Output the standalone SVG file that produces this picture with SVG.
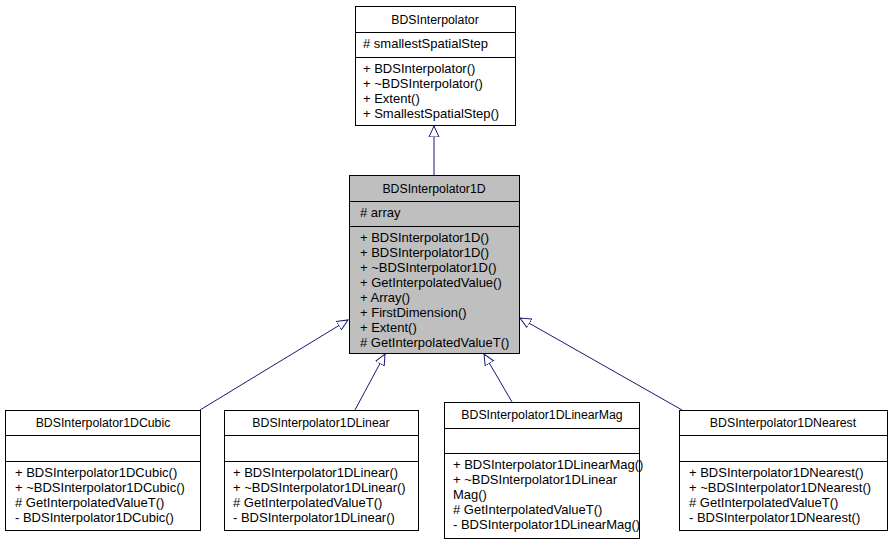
<svg xmlns="http://www.w3.org/2000/svg" width="891" height="544" viewBox="0 0 891 544">
<defs>
<marker id="tri" markerWidth="12" markerHeight="12" refX="11" refY="5" orient="auto" markerUnits="userSpaceOnUse" viewBox="0 0 12 10">
<path d="M0,0 L11,5 L0,10 Z" fill="#fff" stroke="#191970" stroke-width="1"/>
</marker>
</defs>
<style>
rect{stroke:#000;stroke-width:1}
.w{fill:#fff}.g{fill:#bfbfbf}
line.s{stroke:#000;stroke-width:1}
text{font-family:"Liberation Sans",Arial,sans-serif;font-size:13px;fill:#000}
.c{text-anchor:middle;font-size:12.3px}
.e{stroke:#191970;stroke-width:1;fill:none}
</style>
<g id="connectors">
<line class="e" x1="434" y1="175" x2="434" y2="126" marker-end="url(#tri)"/>
<line class="e" x1="200" y1="410" x2="348" y2="320" marker-end="url(#tri)"/>
<line class="e" x1="355" y1="410" x2="385" y2="354" marker-end="url(#tri)"/>
<line class="e" x1="512" y1="402" x2="484" y2="354" marker-end="url(#tri)"/>
<line class="e" x1="682" y1="410" x2="520" y2="318" marker-end="url(#tri)"/>
</g>
<g id="BDSInterpolator">
<rect class="w" x="355.5" y="6.5" width="160" height="119"/>
<line class="s" x1="355.5" y1="32.5" x2="515.5" y2="32.5"/>
<line class="s" x1="355.5" y1="57.5" x2="515.5" y2="57.5"/>
<text class="c" x="435" y="24">BDSInterpolator</text>
<text x="363" y="48"># smallestSpatialStep</text>
<text x="363" y="73">+ BDSInterpolator()</text>
<text x="363" y="88">+ ~BDSInterpolator()</text>
<text x="363" y="103">+ Extent()</text>
<text x="363" y="118">+ SmallestSpatialStep()</text>
</g>
<g id="BDSInterpolator1D">
<rect class="g" x="349.5" y="175.5" width="170" height="178"/>
<line class="s" x1="349.5" y1="201.5" x2="519.5" y2="201.5"/>
<line class="s" x1="349.5" y1="226.5" x2="519.5" y2="226.5"/>
<text class="c" x="434" y="193">BDSInterpolator1D</text>
<text x="360" y="217"># array</text>
<text x="360" y="242">+ BDSInterpolator1D()</text>
<text x="360" y="257">+ BDSInterpolator1D()</text>
<text x="360" y="272">+ ~BDSInterpolator1D()</text>
<text x="360" y="287">+ GetInterpolatedValue()</text>
<text x="360" y="302">+ Array()</text>
<text x="360" y="317">+ FirstDimension()</text>
<text x="360" y="332">+ Extent()</text>
<text x="360" y="347"># GetInterpolatedValueT()</text>
</g>
<g id="Cubic">
<rect class="w" x="5.5" y="410.5" width="195" height="120"/>
<line class="s" x1="5.5" y1="435.5" x2="200.5" y2="435.5"/>
<line class="s" x1="5.5" y1="461.5" x2="200.5" y2="461.5"/>
<text class="c" x="103" y="427">BDSInterpolator1DCubic</text>
<text x="15" y="477">+ BDSInterpolator1DCubic()</text>
<text x="15" y="492">+ ~BDSInterpolator1DCubic()</text>
<text x="15" y="507"># GetInterpolatedValueT()</text>
<text x="15" y="522">- BDSInterpolator1DCubic()</text>
</g>
<g id="Linear">
<rect class="w" x="224.5" y="410.5" width="194" height="120"/>
<line class="s" x1="224.5" y1="435.5" x2="418.5" y2="435.5"/>
<line class="s" x1="224.5" y1="461.5" x2="418.5" y2="461.5"/>
<text class="c" x="321" y="427">BDSInterpolator1DLinear</text>
<text x="233" y="477">+ BDSInterpolator1DLinear()</text>
<text x="233" y="492">+ ~BDSInterpolator1DLinear()</text>
<text x="233" y="507"># GetInterpolatedValueT()</text>
<text x="233" y="522">- BDSInterpolator1DLinear()</text>
</g>
<g id="LinearMag">
<rect class="w" x="444.5" y="402.5" width="195" height="136"/>
<line class="s" x1="444.5" y1="428.5" x2="639.5" y2="428.5"/>
<line class="s" x1="444.5" y1="453.5" x2="639.5" y2="453.5"/>
<text class="c" x="542" y="419">BDSInterpolator1DLinearMag</text>
<text x="453" y="469">+ BDSInterpolator1DLinearMag()</text>
<text x="453" y="484">+ ~BDSInterpolator1DLinear</text>
<text x="453" y="499">Mag()</text>
<text x="453" y="514"># GetInterpolatedValueT()</text>
<text x="453" y="529">- BDSInterpolator1DLinearMag()</text>
</g>
<g id="Nearest">
<rect class="w" x="679.5" y="410.5" width="208" height="120"/>
<line class="s" x1="679.5" y1="435.5" x2="887.5" y2="435.5"/>
<line class="s" x1="679.5" y1="461.5" x2="887.5" y2="461.5"/>
<text class="c" x="783" y="427">BDSInterpolator1DNearest</text>
<text x="689" y="477">+ BDSInterpolator1DNearest()</text>
<text x="689" y="492">+ ~BDSInterpolator1DNearest()</text>
<text x="689" y="507"># GetInterpolatedValueT()</text>
<text x="689" y="522">- BDSInterpolator1DNearest()</text>
</g>
</svg>
